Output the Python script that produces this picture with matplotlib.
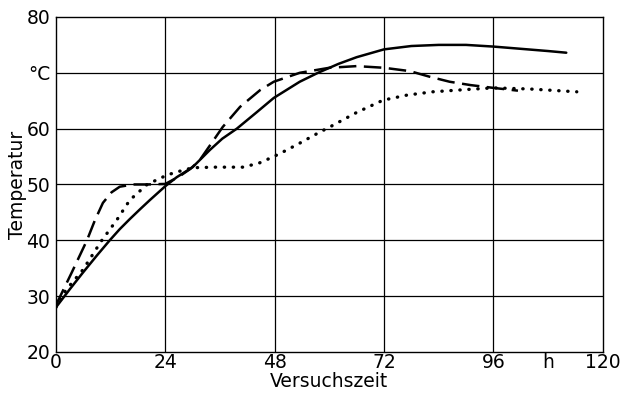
import matplotlib.pyplot as plt

# Versuchszeit (h) und Temperatur (°C)
zeit_a = [0, 3, 5.9, 9, 11.8, 14, 16.2, 18.5, 20.6, 24, 26.5, 30, 33.8, 36.5, 39.7, 44, 47.8, 53.5, 57.5, 62, 66, 72, 78, 84, 90, 96, 102, 108, 112]
temp_a = [28, 31.2, 34.2, 37.3, 40, 42, 43.8, 45.6, 47.2, 49.7, 51.3, 53.1, 56.2, 58.2, 60, 62.9, 65.5, 68.4, 70, 71.6, 72.8, 74.2, 74.8, 75, 75, 74.7, 74.3, 73.9, 73.6]

zeit_b = [0, 3.5, 6.8, 8.5, 10.3, 12.2, 14, 17, 20, 24, 27, 29.5, 31.5, 33.8, 36.6, 40.4, 44.8, 47.8, 53.5, 60, 66, 72, 77.7, 82, 86.4, 91, 96, 101.4]
temp_b = [28.4, 34.3, 40, 43.5, 46.7, 48.6, 49.6, 50, 50, 50.1, 51.4, 52.8, 54.3, 57, 60.3, 63.9, 66.9, 68.4, 70, 70.9, 71.2, 70.9, 70.3, 69.3, 68.4, 67.8, 67.3, 66.8]

zeit_c = [0, 2.2, 5.9, 9.9, 13.4, 16.2, 20, 24.4, 26.8, 30, 35, 41, 44.5, 47.8, 50.5, 53.5, 57.5, 60.1, 66, 71.8, 77, 82.7, 90, 96, 104, 114.3]
temp_c = [28, 31.1, 34.7, 39.8, 43.7, 47.2, 50, 51.7, 52.3, 53, 53.1, 53.1, 53.8, 55, 56.1, 57.4, 59.2, 60.3, 62.9, 65.1, 66, 66.6, 67, 67.3, 67.1, 66.6]

x_ticks = [0, 24, 48, 72, 96, 108, 120]
x_labels = ["0", "24", "48", "72", "96", "h", "120"]
y_ticks = [20, 30, 40, 50, 60, 70, 80]
y_labels = ["20", "30", "40", "50", "60", "°C", "80"]

fig = plt.figure(figsize=(6.22, 3.95), dpi=100)
ax = fig.add_axes([0.090, 0.109, 0.879, 0.848])

ax.plot(zeit_a, temp_a, color="black", lw=1.8, solid_capstyle="round")
ax.plot(zeit_b, temp_b, color="black", lw=1.8, dashes=(7, 3))
ax.plot(zeit_c, temp_c, color="black", lw=2.4, dashes=(0.1, 2.6), dash_capstyle="round")

ax.set_xlim(0, 120)
ax.set_ylim(20, 80)
ax.set_xticks(x_ticks)
ax.set_xticklabels(x_labels)
ax.set_yticks(y_ticks)
ax.set_yticklabels(y_labels)
ax.tick_params(length=0, labelsize=13.5)
ax.tick_params(axis="x", pad=1)
ax.tick_params(axis="y", pad=4)

# Gitter nur an den Hauptlinien, nicht bei "h"
for x in [24, 48, 72, 96]:
    ax.axvline(x, color="black", lw=0.9, zorder=0)
for y in [30, 40, 50, 60, 70]:
    ax.axhline(y, color="black", lw=0.9, zorder=0)

for s in ax.spines.values():
    s.set_linewidth(1.0)

ax.set_xlabel("Versuchszeit", fontsize=13.5, labelpad=0)
ax.set_ylabel("Temperatur", fontsize=13.5, labelpad=0)

plt.savefig("out.png", dpi=100)
